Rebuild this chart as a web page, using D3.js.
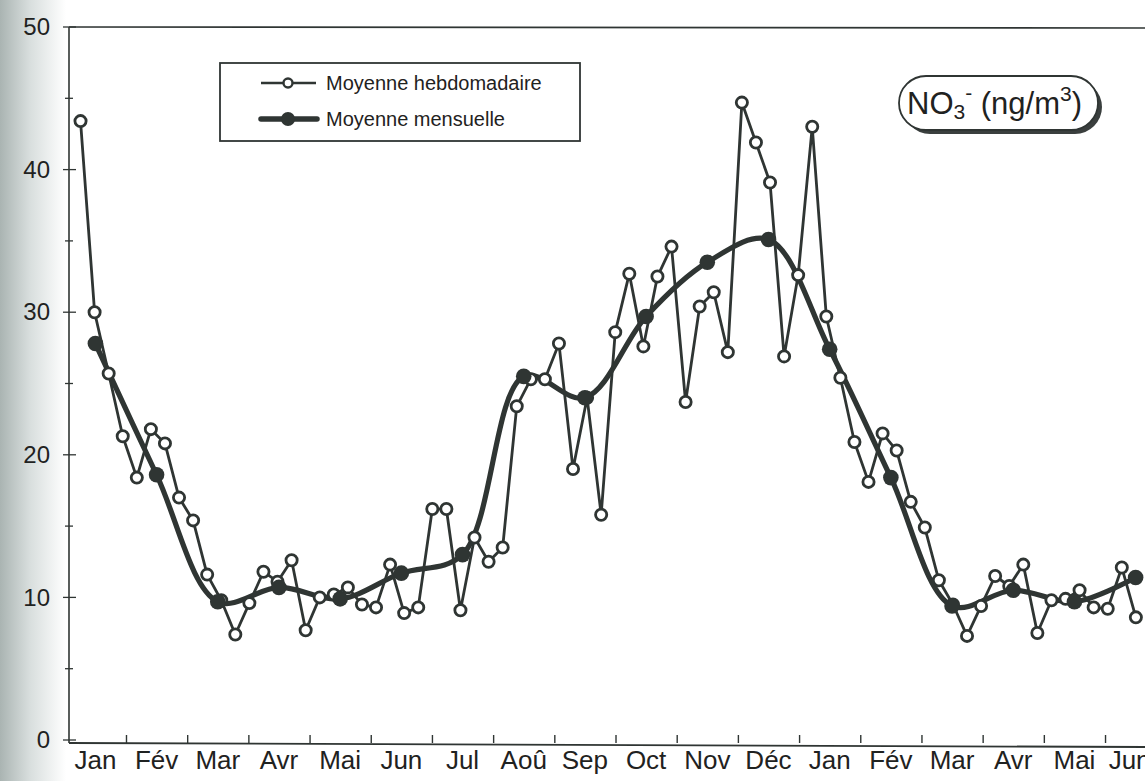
<!DOCTYPE html>
<html>
<head>
<meta charset="utf-8">
<script src="https://cdn.jsdelivr.net/npm/d3@7"></script>
<style>
  html, body { margin: 0; padding: 0; background: #fff; }
  svg { display: block; font-family: "Liberation Sans", Arial, Helvetica, sans-serif; }
</style>
</head>
<body>
<svg id="chart" width="1145" height="781"></svg>
<script>
// ---------- DATA ----------
const monthLabels = ["Jan","Fév","Mar","Avr","Mai","Jun","Jul","Aoû","Sep","Oct","Nov","Déc",
                     "Jan","Fév","Mar","Avr","Mai","Jun"];
const yTicks = [0, 10, 20, 30, 40, 50];
const yMinorTicks = [5, 15, 25, 35, 45];

// weekly means (ng/m3), one per week
const weeklyValues = [43.4, 30.0, 25.7, 21.3, 18.4, 21.8, 20.8, 17.0, 15.4, 11.6,
                      9.8, 7.4, 9.6, 11.8, 11.1, 12.6, 7.7, 10.0, 10.2, 10.7,
                      9.5, 9.3, 12.3, 8.9, 9.3, 16.2, 16.2, 9.1, 14.2, 12.5,
                      13.5, 23.4, 25.3, 25.3, 27.8, 19.0, 24.0, 15.8, 28.6, 32.7,
                      27.6, 32.5, 34.6, 23.7, 30.4, 31.4, 27.2, 44.7, 41.9, 39.1,
                      26.9, 32.6, 43.0, 29.7, 25.4, 20.9, 18.1, 21.5, 20.3, 16.7,
                      14.9, 11.2, 9.5, 7.3, 9.4, 11.5, 10.8, 12.3, 7.5, 9.8,
                      9.9, 10.5, 9.3, 9.2, 12.1, 8.6];
// monthly means (ng/m3), one per month, plotted mid-month
const monthlyValues = [27.8, 18.6, 9.7, 10.7, 9.9, 11.7, 13.0, 25.5, 24.0, 29.7, 33.5, 35.1,
                       27.4, 18.4, 9.4, 10.5, 9.7, 11.4];

const legendLabels = ["Moyenne hebdomadaire", "Moyenne mensuelle"];

// ---------- LAYOUT ----------
const ink = "#2f3533";
const textInk = "#1f2221";
const firstWeek = 0.257;          // month position of first weekly sample
const weekStep = 7 / 30.44;       // one week in months

const svg = d3.select("#chart");

// scanned-page grey edge on the left
const defs = svg.append("defs");
const grad = defs.append("linearGradient").attr("id", "edge").attr("x1", "0").attr("x2", "1").attr("y1", "0").attr("y2", "0");
grad.append("stop").attr("offset", "0").attr("stop-color", "#aab4b2");
grad.append("stop").attr("offset", "0.45").attr("stop-color", "#d8dedd");
grad.append("stop").attr("offset", "1").attr("stop-color", "#ffffff");
svg.append("rect").attr("x", 0).attr("y", 0).attr("width", 66).attr("height", 781).attr("fill", "url(#edge)");

const x = d3.scaleLinear().domain([0, 17]).range([64.8, 64.8 + 17 * 61.19]);
const y = d3.scaleLinear().domain([0, 50]).range([740, 27]);
const axisLeftX = 69;
const axisBottomY = 743;

// frame: top line
svg.append("line").attr("x1", axisLeftX).attr("x2", 1145).attr("y1", 27).attr("y2", 28)
  .attr("stroke", ink).attr("stroke-width", 1.6);

// y axis
const yAxis = d3.axisLeft(y).tickValues(yTicks).tickSize(0).tickPadding(19).tickFormat(d3.format("d"));
const gy = svg.append("g").attr("transform", `translate(${axisLeftX},0)`).call(yAxis);
gy.select(".domain").remove();
gy.selectAll("text").attr("font-size", 24).attr("fill", textInk).attr("font-family", "Liberation Sans, Arial, sans-serif");
svg.append("line").attr("x1", axisLeftX).attr("x2", axisLeftX).attr("y1", 27).attr("y2", axisBottomY)
  .attr("stroke", ink).attr("stroke-width", 1.6);
svg.append("g").selectAll("line").data(yTicks).join("line")
  .attr("x1", axisLeftX - 6).attr("x2", axisLeftX + 7)
  .attr("y1", d => y(d)).attr("y2", d => y(d))
  .attr("stroke", ink).attr("stroke-width", 1.3);
svg.append("g").selectAll("line").data(yMinorTicks).join("line")
  .attr("x1", axisLeftX - 4).attr("x2", axisLeftX + 4)
  .attr("y1", d => y(d)).attr("y2", d => y(d))
  .attr("stroke", ink).attr("stroke-width", 1.3);

// x axis
const monthBounds = d3.range(1, monthLabels.length);
const xAxis = d3.axisBottom(x).tickValues(monthBounds).tickSizeInner(-8).tickSizeOuter(0).tickFormat("");
const gx = svg.append("g").attr("transform", `translate(0,${axisBottomY})`).call(xAxis);
gx.select(".domain").remove();
gx.selectAll("line").attr("stroke", ink).attr("stroke-width", 1.4);
svg.append("line").attr("x1", axisLeftX).attr("x2", 1145).attr("y1", axisBottomY).attr("y2", axisBottomY + 4)
  .attr("stroke", ink).attr("stroke-width", 1.8);

svg.append("g").selectAll("text").data(monthLabels).join("text")
  .attr("x", (d, i) => x(i + 0.5))
  .attr("y", 769)
  .attr("text-anchor", (d, i) => i === monthLabels.length - 1 ? "start" : "middle")
  .attr("dx", (d, i) => i === monthLabels.length - 1 ? -27 : 0)
  .attr("font-size", 26)
  .attr("fill", textInk)
  .text(d => d);

// ---------- SERIES ----------
const weekly = weeklyValues.map((v, i) => ({ m: firstWeek + i * weekStep, v }));
const monthly = monthlyValues.map((v, i) => ({ m: i + 0.5, v }));

const plot = svg.append("g");
plot.append("path")
  .datum(weekly)
  .attr("fill", "none")
  .attr("stroke", ink)
  .attr("stroke-width", 2.8)
  .attr("stroke-linejoin", "round")
  .attr("d", d3.line().x(d => x(d.m)).y(d => y(d.v)));

plot.append("path")
  .datum(monthly)
  .attr("fill", "none")
  .attr("stroke", ink)
  .attr("stroke-width", 5.2)
  .attr("stroke-linecap", "round")
  .attr("d", d3.line().x(d => x(d.m)).y(d => y(d.v)).curve(d3.curveCatmullRom.alpha(0.5)));

plot.append("g").selectAll("circle").data(weekly).join("circle")
  .attr("cx", d => x(d.m)).attr("cy", d => y(d.v)).attr("r", 5.6)
  .attr("fill", "#fff").attr("stroke", ink).attr("stroke-width", 2.8);

plot.append("g").selectAll("circle").data(monthly).join("circle")
  .attr("cx", d => x(d.m)).attr("cy", d => y(d.v)).attr("r", 7.8)
  .attr("fill", ink);

// ---------- LEGEND ----------
const lg = svg.append("g");
lg.append("rect").attr("x", 220).attr("y", 63).attr("width", 360).attr("height", 78)
  .attr("fill", "#fff").attr("stroke", ink).attr("stroke-width", 1.8);
const rows = [83, 119];
// weekly sample
lg.append("line").attr("x1", 261).attr("x2", 316).attr("y1", rows[0]).attr("y2", rows[0])
  .attr("stroke", ink).attr("stroke-width", 2.6);
lg.append("circle").attr("cx", 288).attr("cy", rows[0]).attr("r", 4.5)
  .attr("fill", "#fff").attr("stroke", ink).attr("stroke-width", 2.4);
// monthly sample
lg.append("line").attr("x1", 261).attr("x2", 317).attr("y1", rows[1]).attr("y2", rows[1])
  .attr("stroke", ink).attr("stroke-width", 5.5).attr("stroke-linecap", "round");
lg.append("circle").attr("cx", 288).attr("cy", rows[1]).attr("r", 7).attr("fill", ink);
lg.selectAll("text").data(legendLabels).join("text")
  .attr("x", 326).attr("y", (d, i) => rows[i] + 7)
  .attr("font-size", 20).attr("fill", textInk)
  .text(d => d);

// ---------- TITLE BADGE ----------
const tb = svg.append("g");
tb.append("rect").attr("x", 903).attr("y", 80).attr("width", 199).attr("height", 54).attr("rx", 27)
  .attr("fill", "#3a3f3e");
tb.append("rect").attr("x", 899).attr("y", 76).attr("width", 199).attr("height", 54).attr("rx", 27)
  .attr("fill", "#fff").attr("stroke", ink).attr("stroke-width", 1.8);
const tt = tb.append("text").attr("x", 907).attr("y", 114).attr("font-size", 31).attr("fill", textInk);
tt.append("tspan").text("NO");
tt.append("tspan").attr("font-size", 21).attr("dy", 5).text("3");
tt.append("tspan").attr("font-size", 21).attr("dy", -19).text("-");
tt.append("tspan").attr("dy", 14).text(" (ng/m");
tt.append("tspan").attr("font-size", 21).attr("dy", -13).text("3");
tt.append("tspan").attr("dy", 13).text(")");
</script>
</body>
</html>
